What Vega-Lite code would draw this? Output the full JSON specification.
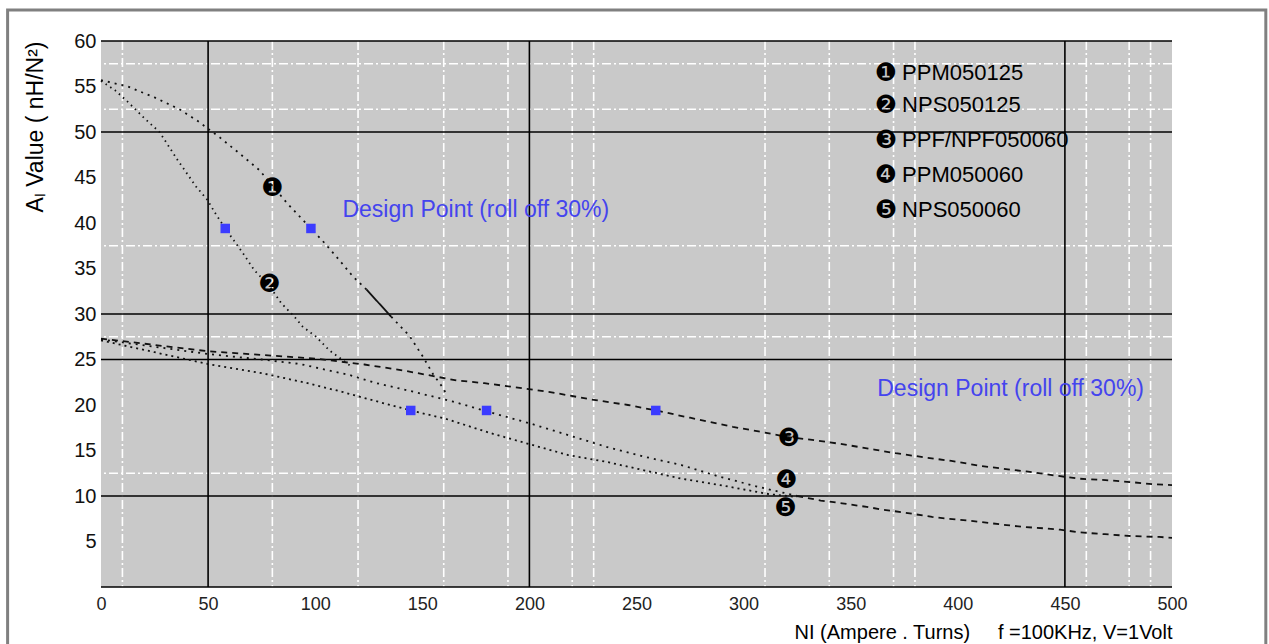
{
  "$schema": "https://vega.github.io/schema/vega-lite/v6.json",
  "width": 1071,
  "height": 546,
  "autosize": {"type": "none"},
  "padding": {"left": 101, "top": 41, "right": 97, "bottom": 57},
  "background": "#ffffff",
  "view": {"fill": "#c9c9c9", "stroke": null},
  "datasets": {
    "frame": [{"x": -43.6, "x2": 543.8, "y": 63.4, "y2": -8}],
    "wv": [{"x": 10}, {"x": 80}, {"x": 120}, {"x": 160}, {"x": 190}, {"x": 220}, {"x": 230}, {"x": 310}, {"x": 340}, {"x": 370}, {"x": 380}, {"x": 460}, {"x": 480}, {"x": 490}],
    "wh": [{"y": 57.5}, {"y": 52.5}, {"y": 37.5}, {"y": 27.5}, {"y": 12.5}],
    "bv": [{"x": 50}, {"x": 200}, {"x": 450}],
    "bh": [{"y": 60}, {"y": 50}, {"y": 30}, {"y": 25}, {"y": 10}, {"y": 0}],
    "curves": [
      {"s": "c1a", "x": 0, "y": 55.7}, {"s": "c1a", "x": 12.5, "y": 55}, {"s": "c1a", "x": 25, "y": 53.8}, {"s": "c1a", "x": 36.6, "y": 52.5}, {"s": "c1a", "x": 45.2, "y": 51.2}, {"s": "c1a", "x": 56, "y": 49.3}, {"s": "c1a", "x": 65.4, "y": 47.5}, {"s": "c1a", "x": 74, "y": 45.8}, {"s": "c1a", "x": 80, "y": 44.1}, {"s": "c1a", "x": 87.2, "y": 42.1}, {"s": "c1a", "x": 98, "y": 39.4}, {"s": "c1a", "x": 103.6, "y": 38}, {"s": "c1a", "x": 109.9, "y": 36.3}, {"s": "c1a", "x": 117.7, "y": 34.1}, {"s": "c1a", "x": 123.9, "y": 32.7},
      {"s": "c1s", "x": 123.9, "y": 32.7}, {"s": "c1s", "x": 135.5, "y": 29.7},
      {"s": "c1b", "x": 135.5, "y": 29.7}, {"s": "c1b", "x": 144, "y": 27.6}, {"s": "c1b", "x": 150.3, "y": 25.3}, {"s": "c1b", "x": 155, "y": 23.4}, {"s": "c1b", "x": 159.6, "y": 21.9}, {"s": "c1b", "x": 161, "y": 21.3},
      {"s": "c2", "x": 0, "y": 55.6}, {"s": "c2", "x": 6.5, "y": 54.6}, {"s": "c2", "x": 13, "y": 53.2}, {"s": "c2", "x": 20.3, "y": 51.5}, {"s": "c2", "x": 27.3, "y": 50}, {"s": "c2", "x": 35.8, "y": 46.9}, {"s": "c2", "x": 44.4, "y": 44}, {"s": "c2", "x": 49.8, "y": 42.5}, {"s": "c2", "x": 53, "y": 41.2}, {"s": "c2", "x": 58, "y": 39.4}, {"s": "c2", "x": 66.2, "y": 36.7}, {"s": "c2", "x": 71.6, "y": 34.8}, {"s": "c2", "x": 78.6, "y": 33.1}, {"s": "c2", "x": 84.1, "y": 31.2}, {"s": "c2", "x": 90.3, "y": 29.7}, {"s": "c2", "x": 94.2, "y": 28.6}, {"s": "c2", "x": 100.4, "y": 27.5}, {"s": "c2", "x": 106.6, "y": 26}, {"s": "c2", "x": 111.3, "y": 25.2}, {"s": "c2", "x": 117, "y": 24.2},
      {"s": "c3", "x": 0, "y": 27.3}, {"s": "c3", "x": 25, "y": 26.6}, {"s": "c3", "x": 50, "y": 25.9}, {"s": "c3", "x": 75, "y": 25.5}, {"s": "c3", "x": 100, "y": 25.1}, {"s": "c3", "x": 123, "y": 24.45}, {"s": "c3", "x": 141, "y": 23.8}, {"s": "c3", "x": 166, "y": 22.7}, {"s": "c3", "x": 179, "y": 22.4}, {"s": "c3", "x": 198, "y": 21.8}, {"s": "c3", "x": 209, "y": 21.45}, {"s": "c3", "x": 229, "y": 20.6}, {"s": "c3", "x": 246, "y": 20}, {"s": "c3", "x": 259, "y": 19.4}, {"s": "c3", "x": 275, "y": 18.6}, {"s": "c3", "x": 295, "y": 17.6}, {"s": "c3", "x": 307, "y": 17.1}, {"s": "c3", "x": 320, "y": 16.5}, {"s": "c3", "x": 334, "y": 16.1}, {"s": "c3", "x": 346, "y": 15.7}, {"s": "c3", "x": 361, "y": 15.1}, {"s": "c3", "x": 371, "y": 14.7}, {"s": "c3", "x": 386, "y": 14.2}, {"s": "c3", "x": 397, "y": 13.85}, {"s": "c3", "x": 411, "y": 13.3}, {"s": "c3", "x": 421, "y": 13.0}, {"s": "c3", "x": 432, "y": 12.7}, {"s": "c3", "x": 447, "y": 12.2}, {"s": "c3", "x": 457, "y": 11.9}, {"s": "c3", "x": 469, "y": 11.75}, {"s": "c3", "x": 482, "y": 11.5}, {"s": "c3", "x": 491, "y": 11.3}, {"s": "c3", "x": 500, "y": 11.2},
      {"s": "c4", "x": 0, "y": 27.2}, {"s": "c4", "x": 25, "y": 26.4}, {"s": "c4", "x": 50, "y": 25.6}, {"s": "c4", "x": 75, "y": 25.0}, {"s": "c4", "x": 93, "y": 24.5}, {"s": "c4", "x": 116, "y": 23.3}, {"s": "c4", "x": 128.6, "y": 22.4}, {"s": "c4", "x": 146, "y": 21.45}, {"s": "c4", "x": 164, "y": 20.4}, {"s": "c4", "x": 180, "y": 19.3}, {"s": "c4", "x": 200, "y": 18.0}, {"s": "c4", "x": 218, "y": 16.7}, {"s": "c4", "x": 236, "y": 15.4}, {"s": "c4", "x": 254, "y": 14.3}, {"s": "c4", "x": 271, "y": 13.4}, {"s": "c4", "x": 289, "y": 12.1}, {"s": "c4", "x": 307, "y": 11.0}, {"s": "c4", "x": 325, "y": 10.0},
      {"s": "c5", "x": 0, "y": 27.1}, {"s": "c5", "x": 25, "y": 25.8}, {"s": "c5", "x": 50, "y": 24.5}, {"s": "c5", "x": 75, "y": 23.5}, {"s": "c5", "x": 94.6, "y": 22.5}, {"s": "c5", "x": 112.5, "y": 21.45}, {"s": "c5", "x": 124, "y": 20.7}, {"s": "c5", "x": 144.6, "y": 19.4}, {"s": "c5", "x": 160.7, "y": 18.5}, {"s": "c5", "x": 182, "y": 16.9}, {"s": "c5", "x": 200, "y": 15.7}, {"s": "c5", "x": 218, "y": 14.5}, {"s": "c5", "x": 236, "y": 13.75}, {"s": "c5", "x": 254, "y": 12.8}, {"s": "c5", "x": 271, "y": 11.9}, {"s": "c5", "x": 289, "y": 11.2}, {"s": "c5", "x": 312, "y": 10.2}, {"s": "c5", "x": 325, "y": 9.9},
      {"s": "tail", "x": 325, "y": 10.0}, {"s": "tail", "x": 336, "y": 9.5}, {"s": "tail", "x": 346, "y": 9.2}, {"s": "tail", "x": 357.5, "y": 8.8}, {"s": "tail", "x": 365, "y": 8.5}, {"s": "tail", "x": 374.6, "y": 8.2}, {"s": "tail", "x": 388, "y": 7.7}, {"s": "tail", "x": 395.6, "y": 7.5}, {"s": "tail", "x": 405, "y": 7.3}, {"s": "tail", "x": 422.8, "y": 6.8}, {"s": "tail", "x": 431, "y": 6.6}, {"s": "tail", "x": 440, "y": 6.45}, {"s": "tail", "x": 447.7, "y": 6.3}, {"s": "tail", "x": 457, "y": 6.0}, {"s": "tail", "x": 468.7, "y": 5.8}, {"s": "tail", "x": 481, "y": 5.6}, {"s": "tail", "x": 494, "y": 5.5}, {"s": "tail", "x": 500, "y": 5.4}
    ],
    "points": [{"x": 58, "y": 39.4}, {"x": 98, "y": 39.4}, {"x": 144.6, "y": 19.4}, {"x": 180, "y": 19.4}, {"x": 259, "y": 19.4}],
    "notes": [{"x": 112.7, "y": 41.4, "t": "Design Point (roll off 30%)"}, {"x": 362.4, "y": 21.8, "t": "Design Point (roll off 30%)"}],
    "nums": [{"x": 80, "y": 43.8, "t": "❶"}, {"x": 78.6, "y": 33.3, "t": "❷"}, {"x": 321, "y": 16.4, "t": "❸"}, {"x": 320, "y": 11.8, "t": "❹"}, {"x": 319.5, "y": 8.7, "t": "❺"},
             {"x": 366.5, "y": 56.5, "t": "❶"}, {"x": 366.5, "y": 53.0, "t": "❷"}, {"x": 366.5, "y": 49.1, "t": "❸"}, {"x": 366.5, "y": 45.3, "t": "❹"}, {"x": 366.5, "y": 41.4, "t": "❺"}],
    "legend": [{"x": 374, "y": 56.5, "t": "PPM050125"}, {"x": 374, "y": 53.0, "t": "NPS050125"}, {"x": 374, "y": 49.1, "t": "PPF/NPF050060"}, {"x": 374, "y": 45.3, "t": "PPM050060"}, {"x": 374, "y": 41.4, "t": "NPS050060"}]
  },
  "layer": [
    {
      "data": {"name": "wv"},
      "mark": {"type": "rule", "color": "#ffffff", "strokeWidth": 1.6, "strokeDash": [9, 3, 2, 3]},
      "encoding": {"x": {"field": "x", "type": "quantitative", "scale": {"domain": [0, 500], "nice": false, "zero": false}}}
    },
    {
      "data": {"name": "wh"},
      "mark": {"type": "rule", "color": "#ffffff", "strokeWidth": 1.6, "strokeDash": [9, 3, 2, 3]},
      "encoding": {"y": {"field": "y", "type": "quantitative", "scale": {"domain": [0, 60], "nice": false, "zero": false}}}
    },
    {
      "data": {"name": "bv"},
      "mark": {"type": "rule", "color": "#000000", "strokeWidth": 1.6},
      "encoding": {"x": {"field": "x", "type": "quantitative", "scale": {"domain": [0, 500], "nice": false, "zero": false}}}
    },
    {
      "data": {"name": "bh"},
      "mark": {"type": "rule", "color": "#000000", "strokeWidth": 1.6},
      "encoding": {"y": {"field": "y", "type": "quantitative", "scale": {"domain": [0, 60], "nice": false, "zero": false}}}
    },
    {
      "data": {"name": "curves"},
      "mark": {"type": "line", "color": "#111111", "strokeWidth": 1.8},
      "encoding": {
        "x": {"field": "x", "type": "quantitative", "scale": {"domain": [0, 500], "nice": false, "zero": false},
          "axis": {"values": [0, 50, 100, 150, 200, 250, 300, 350, 400, 450, 500], "labelFont": "Liberation Sans", "labelFontSize": 18, "labelColor": "#222222", "labelPadding": 8, "labelFlush": false, "labelOverlap": false, "ticks": false, "domain": false, "grid": false,
            "title": "NI (Ampere . Turns)\u00a0\u00a0\u00a0\u00a0\u00a0f =100KHz, V=1Volt", "titleAnchor": "end", "titleFont": "Liberation Sans", "titleFontSize": 20, "titleFontWeight": "normal", "titleColor": "#000000", "titlePadding": 9}},
        "y": {"field": "y", "type": "quantitative", "scale": {"domain": [0, 60], "nice": false, "zero": false},
          "axis": {"values": [5, 10, 15, 20, 25, 30, 35, 40, 45, 50, 55, 60], "labelFont": "Liberation Sans", "labelFontSize": 20, "labelColor": "#111111", "labelPadding": 5, "labelFlush": false, "labelOverlap": false, "ticks": false, "domain": false, "grid": false,
            "title": "Aₗ Value ( nH/N²)", "titleAnchor": "end", "titleFont": "Liberation Sans", "titleFontSize": 23, "titleFontWeight": "normal", "titleColor": "#000000", "titlePadding": 26}},
        "detail": {"field": "s"},
        "strokeDash": {"field": "s", "type": "nominal", "legend": null,
          "scale": {"domain": ["c1a", "c1s", "c1b", "c2", "c3", "c4", "c5", "tail"], "range": [[2, 5], [1, 0], [2, 5], [1.5, 4], [6, 5], [2, 5], [2, 4], [6, 5]]}}
      }
    },
    {
      "data": {"name": "points"},
      "mark": {"type": "square", "filled": true, "color": "#3c3cff", "size": 90, "opacity": 1},
      "encoding": {
        "x": {"field": "x", "type": "quantitative", "scale": {"domain": [0, 500], "nice": false, "zero": false}},
        "y": {"field": "y", "type": "quantitative", "scale": {"domain": [0, 60], "nice": false, "zero": false}}
      }
    },
    {
      "data": {"name": "notes"},
      "mark": {"type": "text", "align": "left", "baseline": "middle", "font": "Liberation Sans", "fontSize": 23, "color": "#4444ee"},
      "encoding": {
        "x": {"field": "x", "type": "quantitative", "scale": {"domain": [0, 500], "nice": false, "zero": false}},
        "y": {"field": "y", "type": "quantitative", "scale": {"domain": [0, 60], "nice": false, "zero": false}},
        "text": {"field": "t"}
      }
    },
    {
      "data": {"name": "nums"},
      "mark": {"type": "text", "align": "center", "baseline": "middle", "font": "DejaVu Sans", "fontSize": 25, "color": "#000000"},
      "encoding": {
        "x": {"field": "x", "type": "quantitative", "scale": {"domain": [0, 500], "nice": false, "zero": false}},
        "y": {"field": "y", "type": "quantitative", "scale": {"domain": [0, 60], "nice": false, "zero": false}},
        "text": {"field": "t"}
      }
    },
    {
      "data": {"name": "legend"},
      "mark": {"type": "text", "align": "left", "baseline": "middle", "font": "Liberation Sans", "fontSize": 22, "color": "#000000"},
      "encoding": {
        "x": {"field": "x", "type": "quantitative", "scale": {"domain": [0, 500], "nice": false, "zero": false}},
        "y": {"field": "y", "type": "quantitative", "scale": {"domain": [0, 60], "nice": false, "zero": false}},
        "text": {"field": "t"}
      }
    },
    {
      "data": {"name": "frame"},
      "mark": {"type": "rect", "fill": "transparent", "stroke": "#808080", "strokeWidth": 3, "clip": false},
      "encoding": {
        "x": {"field": "x", "type": "quantitative", "scale": {"domain": [0, 500], "nice": false, "zero": false}},
        "x2": {"field": "x2"},
        "y": {"field": "y", "type": "quantitative", "scale": {"domain": [0, 60], "nice": false, "zero": false}},
        "y2": {"field": "y2"}
      }
    }
  ]
}
